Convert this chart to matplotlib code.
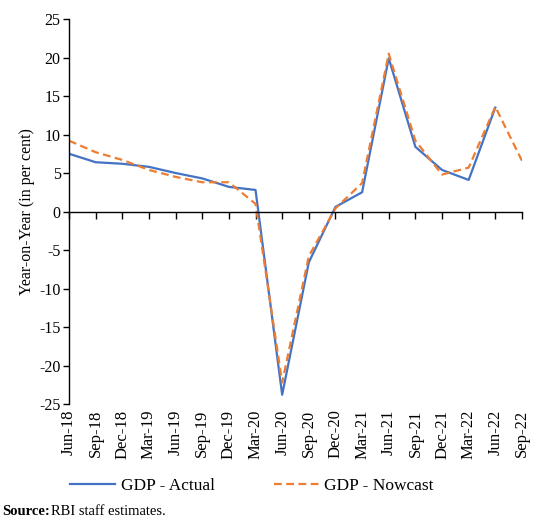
import numpy as np
import matplotlib.pyplot as plt

quarters = ['Jun-18', 'Sep-18', 'Dec-18', 'Mar-19', 'Jun-19', 'Sep-19', 'Dec-19', 'Mar-20',
            'Jun-20', 'Sep-20', 'Dec-20', 'Mar-21', 'Jun-21', 'Sep-21', 'Dec-21', 'Mar-22',
            'Jun-22', 'Sep-22']

gdp_actual = [7.5, 6.4, 6.2, 5.8, 5.0, 4.3, 3.2, 2.8,
              -23.8, -6.6, 0.6, 2.5, 19.9, 8.4, 5.4, 4.1, 13.5]
gdp_nowcast = [9.2, 7.7, 6.7, 5.4, 4.5, 3.8, 3.8, 1.0,
               -22.2, -5.8, 0.4, 3.7, 20.5, 9.2, 4.8, 5.7, 13.6, 6.6]

plt.rcParams['font.family'] = ['Liberation Serif', 'DejaVu Serif']
plt.rcParams['axes.unicode_minus'] = False

fig = plt.figure(figsize=(5.5, 5.24), dpi=100)
ax = fig.add_axes([0.1255, 0.229, 0.8235, 0.7347])

x_act = np.arange(len(gdp_actual))
x_now = np.arange(len(gdp_nowcast))

line1, = ax.plot(x_act, gdp_actual, color='#4472c4', lw=1.6, label='GDP - Actual')
line2, = ax.plot(x_now, gdp_nowcast, color='#ed7d31', lw=1.6, ls=(0, (3.5, 2)),
                 label='GDP - Nowcast')

ax.set_xlim(0, len(quarters) - 1)
ax.set_ylim(-25, 25)
ax.set_yticks(np.arange(-25, 26, 5))
ax.set_xticks(np.arange(len(quarters)))
ax.set_xticklabels(quarters)

# x axis line sits at zero, labels stay at the bottom
ax.spines['right'].set_visible(False)
ax.spines['bottom'].set_visible(False)
ax.spines['top'].set_position(('data', 0))
ax.spines['top'].set_linewidth(1)
ax.spines['left'].set_linewidth(1)
ax.tick_params(axis='x', bottom=False, top=True, labelbottom=True, labeltop=False,
               direction='in', length=5, width=1, pad=4, labelrotation=90, labelsize=12)
ax.tick_params(axis='y', direction='out', length=4, width=1, labelsize=11.5, pad=2)

ax.set_ylabel('Year-on-Year (in per cent)', fontsize=11.5, labelpad=3)

fig.legend(handles=[line1, line2], loc='center', bbox_to_anchor=(0.458, 0.072), ncol=2,
           frameon=False, fontsize=12.5, columnspacing=3.4, handlelength=2.6, handletextpad=0.3)

fig.text(0.004, 0.023, 'Source:', fontsize=10.5, fontweight='bold', va='center')
fig.text(0.092, 0.023, 'RBI staff estimates.', fontsize=10.5, va='center')

fig.savefig('out.png', dpi=100)
